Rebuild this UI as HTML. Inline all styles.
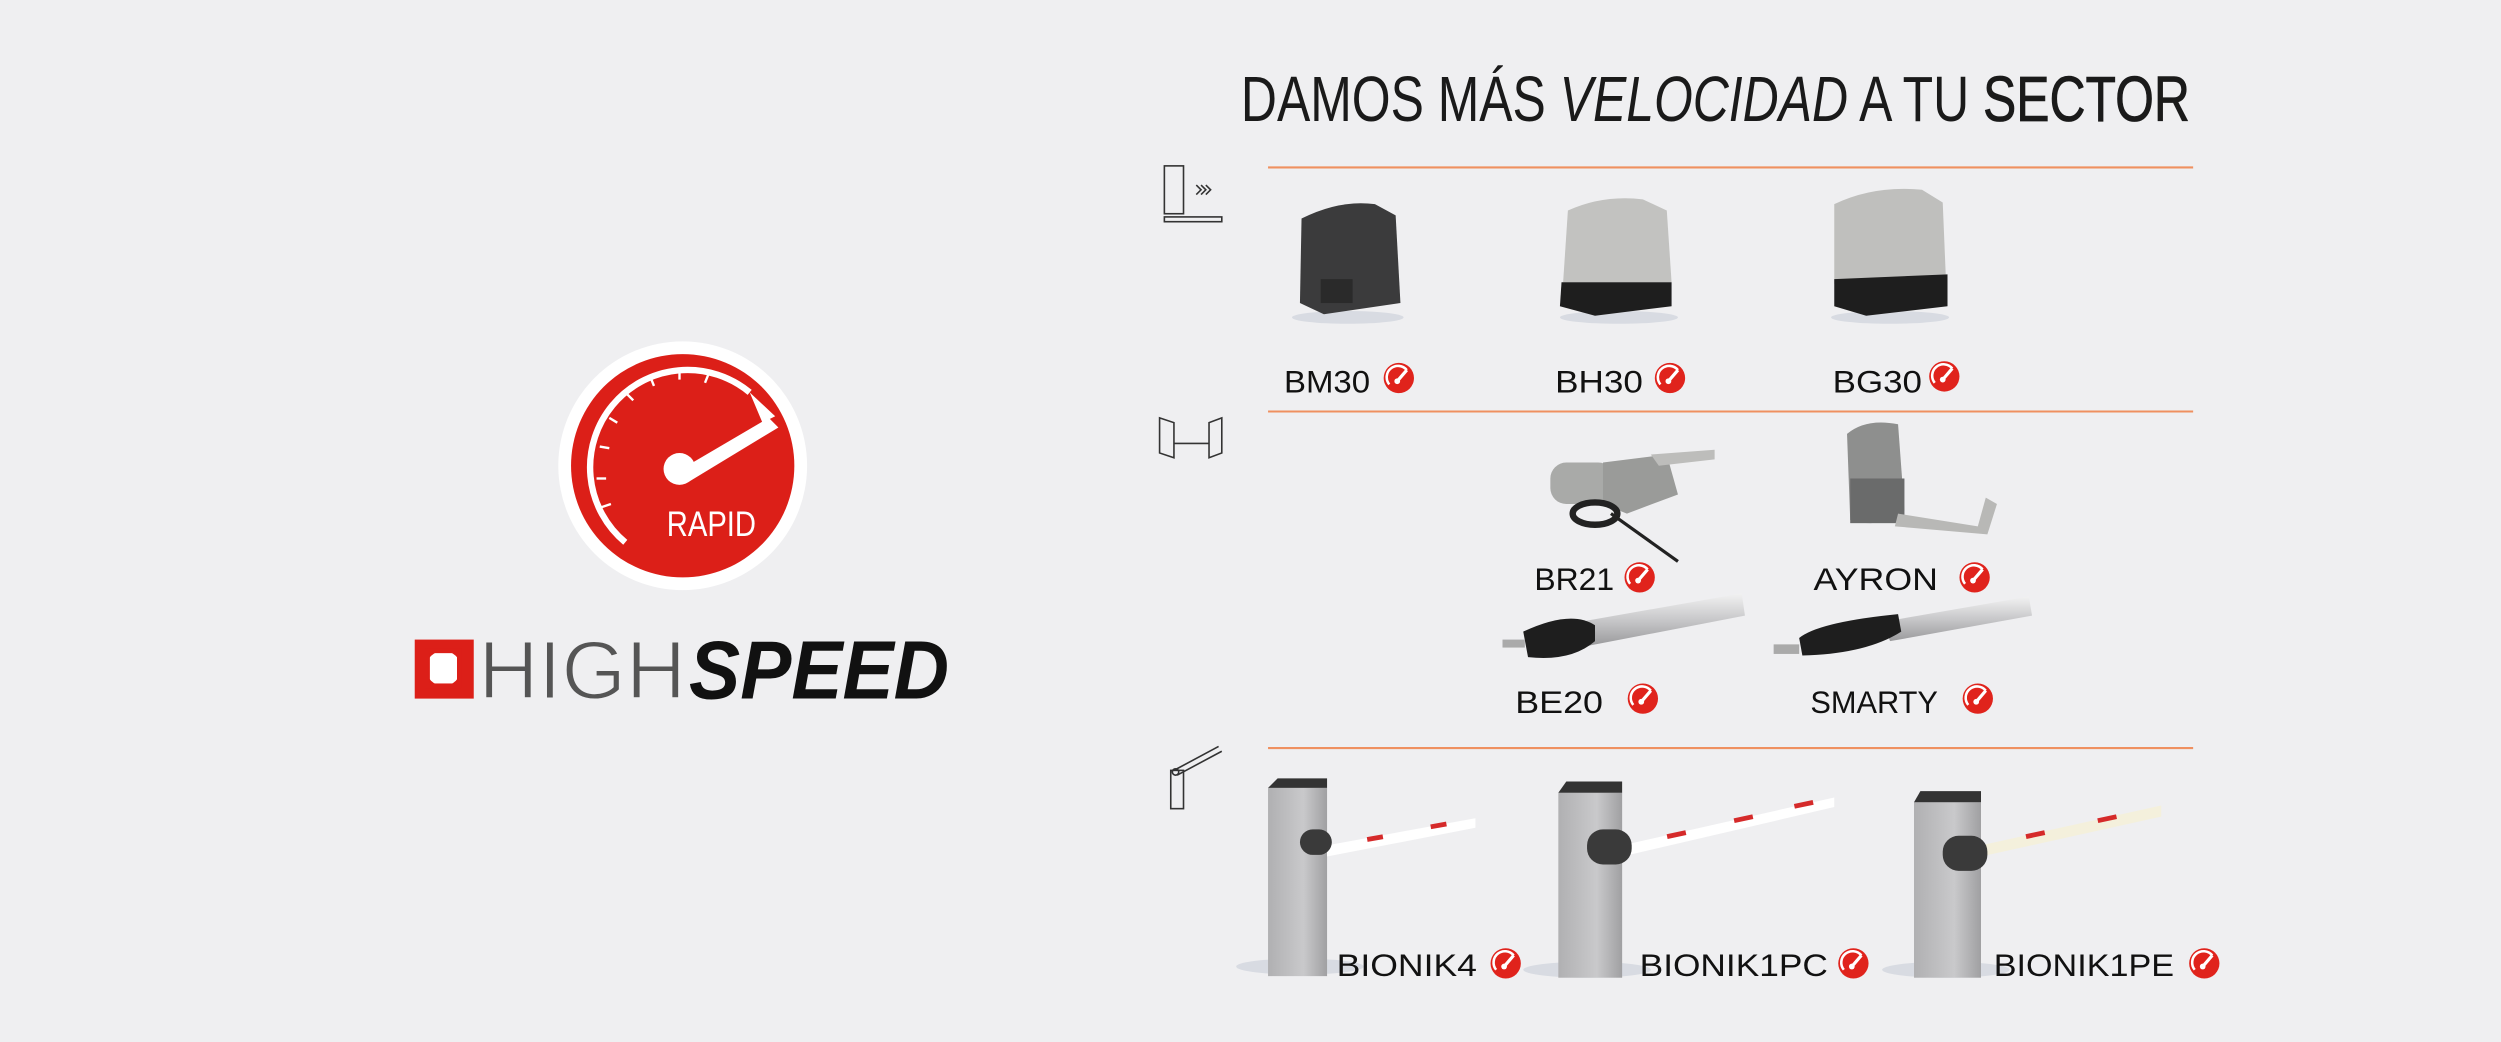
<!DOCTYPE html>
<html><head><meta charset="utf-8"><style>
html,body{margin:0;padding:0;background:#efeff1;}
svg{display:block;}
text{font-family:"Liberation Sans Narrow","Liberation Sans",sans-serif;}
</style></head><body>
<svg width="2501" height="1042" viewBox="0 0 1568 653.3" xmlns="http://www.w3.org/2000/svg">
<defs>
<symbol id="bd" viewBox="-10 -10 20 20">
<circle r="9.5" fill="#e0231c"/>
<path d="M-6,4 A7,7 0 1 1 5,-5" fill="none" stroke="#fff" stroke-width="1.6"/>
<path d="M-1,2 L5,-5" stroke="#fff" stroke-width="2"/>
<circle r="1.8" cy="2" cx="-1" fill="#fff"/>
</symbol>
<linearGradient id="al" x1="0" y1="0" x2="0" y2="1"><stop offset="0" stop-color="#f2f2f2"/><stop offset="0.5" stop-color="#c8c8ca"/><stop offset="1" stop-color="#9a9a9c"/></linearGradient>
<linearGradient id="col" x1="0" y1="0" x2="1" y2="0"><stop offset="0" stop-color="#b0b0b2"/><stop offset="0.6" stop-color="#c9c9cb"/><stop offset="1" stop-color="#a0a0a2"/></linearGradient>
</defs>
<rect width="1568" height="653.3" fill="#efeff1"/>

<!-- logo -->
<circle cx="428" cy="292" r="78" fill="#fff"/>
<circle cx="428" cy="292" r="70" fill="#dc1f18"/>
<path d="M392,340 A60,60 0 0 1 470,246" fill="none" stroke="#fff" stroke-width="4"/>
<g stroke="#fff" stroke-width="1.5">
<line x1="374" y1="300" x2="380" y2="300"/>
<line x1="376" y1="280" x2="382" y2="281"/>
<line x1="382" y1="262" x2="387" y2="265"/>
<line x1="393" y1="247" x2="397" y2="251"/>
<line x1="408" y1="237" x2="410" y2="242"/>
<line x1="426" y1="233" x2="426" y2="238"/>
<line x1="444" y1="235" x2="442" y2="240"/>
<line x1="377" y1="318" x2="383" y2="316"/>
</g>
<path d="M470,246 L486,261 L478,265 Z" fill="#fff"/>
<path d="M424,296 L482,262 L488,268 L432,302 Z" fill="#fff"/>
<circle cx="426" cy="294" r="10" fill="#fff"/>
<text x="418" y="336" font-size="22" fill="#fff" textLength="56" lengthAdjust="spacingAndGlyphs">RAPID</text>

<!-- HIGHSPEED -->
<rect x="260" y="401" width="37" height="37" fill="#dc1f18"/>
<circle cx="278" cy="419" r="11" fill="#fff"/>
<rect x="268" y="408" width="20" height="22" fill="none" stroke="#dc1f18" stroke-width="3"/>
<text x="300" y="438" font-size="52" fill="#555" style="font-family:'Liberation Sans',sans-serif" textLength="130" lengthAdjust="spacingAndGlyphs" stroke="#efeff1" stroke-width="1.2">HIGH</text>
<text x="432" y="438" font-size="52" fill="#111" font-weight="bold" font-style="italic" style="font-family:'Liberation Sans',sans-serif" textLength="163" lengthAdjust="spacingAndGlyphs">SPEED</text>

<!-- title -->
<text x="778" y="76" font-size="40" fill="#1a1a1a" textLength="595" lengthAdjust="spacingAndGlyphs">DAMOS MÁS <tspan font-style="italic">VELOCIDAD</tspan> A TU <tspan stroke="#1a1a1a" stroke-width="0.5">SECTOR</tspan></text>

<!-- lines -->
<g stroke="#ef9060" stroke-width="1.3">
<line x1="795" y1="105" x2="1375" y2="105"/>
<line x1="795" y1="258" x2="1375" y2="258"/>
<line x1="795" y1="469" x2="1375" y2="469"/>
</g>

<!-- section icons -->
<g fill="none" stroke="#333" stroke-width="1">
<rect x="730" y="104" width="12" height="30"/>
<rect x="730" y="136" width="36" height="3"/>
<path d="M750,116 l3,3 -3,3 M753,116 l3,3 -3,3 M756,116 l3,3 -3,3"/>
<path d="M727,262 l9,3 v22 l-9,-3 z M766,262 l-8,3 v22 l8,-3 z M736,278 h22"/>
<rect x="734" y="483" width="8" height="24"/>
<path d="M736,483 L764,468 M738,486 L766,471"/>
<circle cx="737" cy="484" r="2"/>
</g>

<!-- sliding motors -->
<ellipse cx="845" cy="199" rx="35" ry="4" fill="#d8dbe2"/>
<path d="M816,137 Q840,125 862,128 L875,135 L878,190 L830,197 L815,190 Z" fill="#3b3b3c"/>
<rect x="828" y="175" width="20" height="15" fill="#2a2a2a"/>
<ellipse cx="1015" cy="199" rx="37" ry="4" fill="#d8dbe2"/>
<path d="M983,132 Q1005,122 1030,125 L1045,132 L1048,177 L980,177 Z" fill="#c2c2c0"/>
<path d="M979,177 L1048,177 L1048,192 L1000,198 L978,192 Z" fill="#1e1e1e"/>
<ellipse cx="1185" cy="199" rx="37" ry="4" fill="#d8dbe2"/>
<path d="M1150,128 Q1175,116 1205,119 L1218,127 L1220,175 L1150,178 Z" fill="#bfbfbd"/>
<path d="M1150,175 L1221,172 L1221,192 L1170,198 L1150,192 Z" fill="#1e1e1e"/>

<!-- swing -->
<g>
<rect x="972" y="290" width="40" height="26" rx="10" fill="#a9aaa8"/>
<path d="M1005,290 L1045,285 L1052,310 L1020,322 L1005,316 Z" fill="#9a9b99"/>
<path d="M1035,285 L1075,282 L1075,288 L1040,292 Z" fill="#bdbdbb"/>
<ellipse cx="1000" cy="322" rx="14" ry="7" fill="none" stroke="#222" stroke-width="4"/>
<line x1="1010" y1="322" x2="1052" y2="352" stroke="#222" stroke-width="2"/>
</g>
<g>
<path d="M1158,272 Q1170,262 1190,266 L1194,320 Q1180,332 1160,326 Z" fill="#8e8f8e"/>
<rect x="1160" y="300" width="34" height="28" fill="#6a6b6b"/>
<path d="M1190,322 L1240,330 L1245,312 L1252,316 L1246,335 L1188,330 Z" fill="#b8b8b6"/>
</g>
<g>
<path d="M990,390 L1092,372 L1094,386 L995,405 Z" fill="url(#al)"/>
<path d="M955,396 Q985,382 1000,392 L1000,402 Q985,415 958,412 Z" fill="#1e1e1e"/>
<rect x="942" y="401" width="14" height="5" fill="#aaa"/>
</g>
<g>
<path d="M1180,390 L1272,374 L1274,386 L1185,402 Z" fill="url(#al)"/>
<path d="M1128,400 Q1140,390 1190,385 L1192,396 Q1170,410 1130,411 Z" fill="#1e1e1e"/>
<rect x="1112" y="404" width="16" height="6" fill="#aaa"/>
</g>

<!-- barriers -->
<g>
<ellipse cx="815" cy="606" rx="40" ry="5" fill="#d8dbe2"/>
<rect x="795" y="494" width="37" height="118" fill="url(#col)"/>
<path d="M795,494 L801,488 L832,488 L832,494 Z" fill="#333"/>
<path d="M832,530 L925,513 L925,519 L832,537 Z" fill="#fff"/>
<rect x="857" y="524" width="10" height="3" fill="#d52a2a" transform="rotate(-10 862 525)"/>
<rect x="897" y="516" width="10" height="3" fill="#d52a2a" transform="rotate(-10 902 518)"/>
<rect x="815" y="520" width="20" height="16" rx="8" fill="#3a3a3a"/>
</g>
<g>
<ellipse cx="995" cy="608" rx="40" ry="5" fill="#d8dbe2"/>
<rect x="977" y="497" width="40" height="116" fill="url(#col)"/>
<path d="M977,497 L982,490 L1017,490 L1017,497 Z" fill="#333"/>
<path d="M1017,530 L1150,500 L1150,506 L1017,537 Z" fill="#fff"/>
<rect x="1045" y="522" width="12" height="3" fill="#d52a2a" transform="rotate(-12 1050 523)"/>
<rect x="1087" y="512" width="12" height="3" fill="#d52a2a" transform="rotate(-12 1092 513)"/>
<rect x="1125" y="503" width="12" height="3" fill="#d52a2a" transform="rotate(-12 1130 505)"/>
<rect x="995" y="520" width="28" height="22" rx="10" fill="#3a3a3a"/>
</g>
<g>
<ellipse cx="1220" cy="608" rx="40" ry="5" fill="#d8dbe2"/>
<rect x="1200" y="503" width="42" height="110" fill="url(#col)"/>
<path d="M1200,503 L1204,496 L1242,496 L1242,503 Z" fill="#333"/>
<path d="M1242,530 L1355,505 L1355,512 L1242,537 Z" fill="#f4f0dc"/>
<rect x="1270" y="522" width="12" height="3" fill="#d52a2a" transform="rotate(-12 1275 523)"/>
<rect x="1315" y="512" width="12" height="3" fill="#d52a2a" transform="rotate(-12 1320 513)"/>
<rect x="1218" y="524" width="28" height="22" rx="10" fill="#3a3a3a"/>
</g>

<!-- labels -->
<g font-size="20" fill="#111">
<text x="805" y="246" textLength="54" lengthAdjust="spacingAndGlyphs">BM30</text>
<text x="975" y="246" textLength="55" lengthAdjust="spacingAndGlyphs">BH30</text>
<text x="1149" y="246" textLength="56" lengthAdjust="spacingAndGlyphs">BG30</text>
<text x="962" y="370" textLength="50" lengthAdjust="spacingAndGlyphs">BR21</text>
<text x="1137" y="370" textLength="78" lengthAdjust="spacingAndGlyphs">AYRON</text>
<text x="950" y="447" textLength="55" lengthAdjust="spacingAndGlyphs">BE20</text>
<text x="1135" y="447" textLength="80" lengthAdjust="spacingAndGlyphs">SMARTY</text>
<text x="838" y="612" textLength="88" lengthAdjust="spacingAndGlyphs">BIONIK4</text>
<text x="1028" y="612" textLength="118" lengthAdjust="spacingAndGlyphs">BIONIK1PC</text>
<text x="1250" y="612" textLength="113" lengthAdjust="spacingAndGlyphs">BIONIK1PE</text>
</g>
<use href="#bd" x="867" y="227" width="20" height="20"/>
<use href="#bd" x="1037" y="227" width="20" height="20"/>
<use href="#bd" x="1209" y="226" width="20" height="20"/>
<use href="#bd" x="1018" y="352" width="20" height="20"/>
<use href="#bd" x="1228" y="352" width="20" height="20"/>
<use href="#bd" x="1020" y="428" width="20" height="20"/>
<use href="#bd" x="1230" y="428" width="20" height="20"/>
<use href="#bd" x="934" y="594" width="20" height="20"/>
<use href="#bd" x="1152" y="594" width="20" height="20"/>
<use href="#bd" x="1372" y="594" width="20" height="20"/>
</svg>
</body></html>
